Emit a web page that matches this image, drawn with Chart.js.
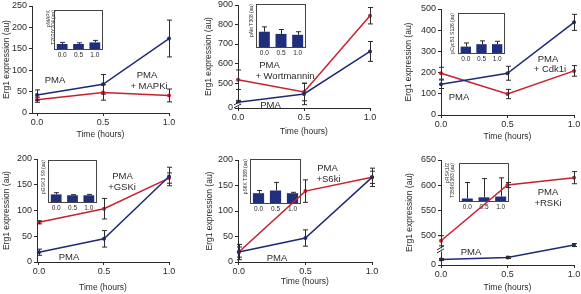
<!DOCTYPE html>
<html><head><meta charset="utf-8">
<script src="https://cdn.jsdelivr.net/npm/chart.js@4.4.0/dist/chart.umd.min.js"></script>
<style>
html,body{margin:0;padding:0;background:#fff;}
#wrap{position:relative;width:581px;height:294px;overflow:hidden;background:#fff;}
canvas{position:absolute;}
.lbl{position:absolute;font-family:"Liberation Sans",Arial,sans-serif;font-size:9.5px;color:#2a2a2a;white-space:nowrap;transform:translate(-50%,-50%);line-height:1;}
</style></head><body><div id="wrap"></div>
<script>
// ---------- data ----------
const times = [0, 0.5, 1.0];
const timeTicks = [0, 0.5, 1.0];
const insetCats = ['0.0', '0.5', '1.0'];

// Panel A (MAPK)
const pmaA = [42, 67, 174];
const pmaAErr = [12, 23, 43];
const mapki = [31, 48, 41];
const mapkiErr = [6, 18, 15];
const yTicksA = [0, 50, 100, 150, 200, 250];
const pMAPK = [15, 15, 19];
const pMAPKErr = [4, 3, 5];

// Panel B (Akt) - broken axis, "0" sits at 372 on the continued scale
const pmaB = [401, 444, 662];
const pmaBErr = [10, 55, 51];
const wort = [517, 454, 845];
const wortErr = [50, 45, 42];
const yTicksB = [372, 500, 600, 700, 800, 900];
const yTickLabelsB = ['0', '500', '600', '700', '800', '900'];
const pAkt = [37, 32, 30];
const pAktErr = [11, 10, 7];

// Panel C (Cdk1)
const pmaC = [145, 197, 437];
const pmaCErr = [20, 33, 38];
const cdk1i = [197, 99, 208];
const cdk1iErr = [28, 22, 25];
const yTicksC = [0, 100, 200, 300, 400, 500];
const pCycB1 = [18, 24, 24];
const pCycB1Err = [9, 8, 7];

// Panel D (GSK3)
const pmaD = [19, 45, 166];
const pmaDErr = [6, 16, 18];
const gski = [77, 103.5, 163];
const gskiErr = [3, 20, 10];
const yTicksD = [0, 50, 100, 150, 200];
const pGSK3 = [20, 18, 18];
const pGSK3Err = [4, 1.5, 2];

// Panel E (S6K)
const pmaE = [19.5, 47, 166];
const pmaEErr = [10, 16, 18];
const s6ki = [19.5, 139, 166];
const s6kiErr = [15, 22, 12];
const yTicksE = [0, 50, 100, 150, 200];
const pS6K = [24, 30, 24];
const pS6KErr = [6, 18, 2];

// Panel F (RSK) - broken axis, "0" sits at 442 on the continued scale
const pmaF = [453, 457, 481.5];
const pmaFErr = [2, 2, 3];
const rski = [490, 600.4, 615];
const rskiErr = [10, 5, 12];
const yTicksF = [442, 500, 550, 600, 650];
const yTickLabelsF = ['0', '500', '550', '600', '650'];
const pRSK = [9, 12, 14];
const pRSKErr = [41, 48, 48];

// ---------- styles / layout ----------
const BLUE = '#1f2a76', RED = '#c8202e', BAR = '#1f2f7c', INK = '#2a2a2a';
const FONT = '"Liberation Sans", Arial, Helvetica, sans-serif';
const YW = 44, XH = 34, PT = 8, PR = 10;

const panels = [
  { area: {l: 32, r: 169, t: 6, b: 113}, xMin: -0.038, yMin: 0, yMax: 250, yTicks: yTicksA, yLabels: null,
    yTitleX: 7, xTitleY: 135,
    series: [{d: pmaA, e: pmaAErr, c: BLUE}, {d: mapki, e: mapkiErr, c: RED}],
    labels: [['PMA', 55, 80], ['PMA', 147, 75], ['+ MAPKi', 149, 86]],
    inset: {box: {l: 54, r: 103, t: 10, b: 50}, v: pMAPK, e: pMAPKErr, title: ['pMAPK', 'T202/Y204 (au)'], tx: 48.5} },
  { area: {l: 238, r: 370, t: 5, b: 108}, xMin: 0, yMin: 372, yMax: 900, yTicks: yTicksB, yLabels: yTickLabelsB, brk: 385,
    yTitleX: 209, xTitleY: 132,
    series: [{d: pmaB, e: pmaBErr, c: BLUE}, {d: wort, e: wortErr, c: RED}],
    labels: [['PMA', 269.5, 65], ['+ Wortmannin', 285, 76], ['PMA', 270.5, 105]],
    inset: {box: {l: 256, r: 306, t: 4, b: 48}, v: pAkt, e: pAktErr, title: 'pAkt T308 (au)', tx: 252} },
  { area: {l: 441, r: 574, t: 9, b: 115}, xMin: 0, yMin: 0, yMax: 500, yTicks: yTicksC, yLabels: null,
    yTitleX: 409, xTitleY: 137,
    series: [{d: pmaC, e: pmaCErr, c: BLUE}, {d: cdk1i, e: cdk1iErr, c: RED}],
    labels: [['PMA', 459, 97], ['PMA', 548, 58.5], ['+ Cdk1i', 550, 69]],
    inset: {box: {l: 458, r: 505, t: 13, b: 54}, v: pCycB1, e: pCycB1Err, title: 'pCycB1 S126 (au)', tx: 453} },
  { area: {l: 37, r: 169, t: 159, b: 262}, xMin: -0.015, yMin: 0, yMax: 200, yTicks: yTicksD, yLabels: null,
    yTitleX: 6.5, xTitleY: 288,
    series: [{d: pmaD, e: pmaDErr, c: BLUE}, {d: gski, e: gskiErr, c: RED}],
    labels: [['PMA', 69, 257], ['PMA', 122.5, 176], ['+GSKi', 122, 187]],
    inset: {box: {l: 48, r: 97, t: 160, b: 203}, v: pGSK3, e: pGSK3Err, title: 'pGSK3 S9 (au)', tx: 44} },
  { area: {l: 238, r: 372, t: 160, b: 262}, xMin: -0.006, yMin: 0, yMax: 200, yTicks: yTicksE, yLabels: null,
    yTitleX: 210, xTitleY: 282,
    series: [{d: pmaE, e: pmaEErr, c: BLUE}, {d: s6ki, e: s6kiErr, c: RED}],
    labels: [['PMA', 277, 258], ['PMA', 327.5, 168], ['+S6ki', 328.5, 178.5]],
    inset: {box: {l: 250, r: 301, t: 159, b: 204}, v: pS6K, e: pS6KErr, title: 'pS6K T389 (au)', tx: 246} },
  { area: {l: 441, r: 574, t: 160, b: 265}, xMin: 0, yMin: 442, yMax: 650, yTicks: yTicksF, yLabels: yTickLabelsF, brk: 471,
    yTitleX: 410, xTitleY: 288,
    series: [{d: pmaF, e: pmaFErr, c: BLUE}, {d: rski, e: rskiErr, c: RED}],
    labels: [['PMA', 471, 252], ['PMA', 548, 192], ['+RSKi', 548, 202.5]],
    inset: {box: {l: 459, r: 509, t: 163, b: 202}, v: pRSK, e: pRSKErr, title: ['pRSK1/2', 'T359/S363 (au)'], tx: 448} }
];

// ---------- plugins ----------
const errPlugin = {
  id: 'errBars',
  afterDatasetsDraw(chart) {
    const ctx = chart.ctx, ys = chart.scales.y;
    chart.data.datasets.forEach((ds, i) => {
      if (!ds.errs) return;
      const meta = chart.getDatasetMeta(i);
      ctx.save();
      ctx.strokeStyle = INK; ctx.lineWidth = 1;
      meta.data.forEach((el, j) => {
        const v = ds.vals[j], e = ds.errs[j];
        const x = Math.round(el.x) + 0.5;
        const yT = ys.getPixelForValue(v + e);
        const yB = ds.upOnly ? el.y : ys.getPixelForValue(v - e);
        const cw = ds.capW || 2.5;
        ctx.beginPath();
        ctx.moveTo(x, yT); ctx.lineTo(x, yB);
        ctx.moveTo(x - cw, yT); ctx.lineTo(x + cw, yT);
        if (!ds.upOnly) { ctx.moveTo(x - cw, yB); ctx.lineTo(x + cw, yB); }
        ctx.stroke();
      });
      ctx.restore();
    });
  }
};
const boxPlugin = {
  id: 'boxBorder',
  afterDraw(chart) {
    const a = chart.chartArea, ctx = chart.ctx;
    ctx.save(); ctx.strokeStyle = '#444'; ctx.lineWidth = 1;
    ctx.strokeRect(Math.round(a.left) + 0.5, Math.round(a.top) + 0.5, Math.round(a.right - a.left) - 1, Math.round(a.bottom - a.top) - 1);
    ctx.restore();
  }
};
const brkPlugin = {
  id: 'brk',
  afterDraw(chart, args, opts) {
    if (opts.value == null) return;
    const ctx = chart.ctx, x = chart.chartArea.left, y = chart.scales.y.getPixelForValue(opts.value);
    ctx.save();
    ctx.fillStyle = '#fff'; ctx.fillRect(x - 2, y - 2, 4, 3);
    ctx.strokeStyle = INK; ctx.lineWidth = 1;
    ctx.beginPath();
    ctx.moveTo(x - 4, y - 0.5); ctx.lineTo(x + 3, y - 4.5);
    ctx.moveTo(x - 4, y + 2.5); ctx.lineTo(x + 3, y - 1.5);
    ctx.stroke(); ctx.restore();
  }
};

const wrap = document.getElementById('wrap');
function makeCanvas(left, top, w, h) {
  const cv = document.createElement('canvas');
  cv.width = w; cv.height = h;
  cv.style.left = left + 'px'; cv.style.top = top + 'px';
  cv.style.width = w + 'px'; cv.style.height = h + 'px';
  wrap.appendChild(cv);
  return cv;
}

// ---------- insets (drawn underneath) ----------
panels.forEach(p => {
  const ins = p.inset, b = ins.box;
  const IYW = 16, IPT = 2, IPR = 2, IXH = 9;
  const left = b.l - IYW, top = b.t - IPT;
  const w = (b.r - b.l) + IYW + IPR, h = (b.b - b.t) + IPT + IXH;
  const cv = makeCanvas(left, top, w, h);
  const tFont = 5, tLH = 1;
  new Chart(cv, {
    type: 'bar',
    data: { labels: insetCats, datasets: [{
      data: ins.v, vals: ins.v, errs: ins.e, upOnly: true, capW: 2.5,
      backgroundColor: BAR, borderWidth: 0, categoryPercentage: 1, barPercentage: 0.66 }] },
    options: {
      responsive: false, animation: false, devicePixelRatio: 1,
      layout: { padding: {left: 0, top: IPT, right: IPR, bottom: 0} },
      plugins: { legend: {display: false}, tooltip: {enabled: false} },
      scales: {
        x: { afterFit: s => { s.height = IXH; },
             ticks: { font: {family: FONT, size: 6.5}, color: INK, padding: 1, maxRotation: 0 },
             grid: { display: false, drawTicks: false }, border: { display: false } },
        y: { min: 0, max: 100, afterFit: s => { s.width = IYW; },
             ticks: { display: false }, grid: { display: false, drawTicks: false }, border: { display: false },
             title: { display: true, text: ins.title, align: 'end', color: INK,
                      font: {family: FONT, size: tFont, lineHeight: tLH},
                      padding: {top: ins.tx - left - tFont * tLH / 2, bottom: 0} } }
      }
    },
    plugins: [errPlugin, boxPlugin]
  });
});

// ---------- main charts ----------
Chart.register(brkPlugin);
panels.forEach(p => {
  const a = p.area;
  const left = a.l - YW, top = a.t - PT;
  const w = (a.r - a.l) + YW + PR, h = (a.b - a.t) + PT + XH;
  const cv = makeCanvas(left, top, w, h);
  const tSize = 8.5, tLH = 10.2;
  new Chart(cv, {
    type: 'line',
    data: { datasets: p.series.map(s => ({
      data: times.map((t, i) => ({x: t, y: s.d[i]})),
      vals: s.d, errs: s.e,
      borderColor: s.c, backgroundColor: s.c, borderWidth: 1.5,
      pointRadius: 2, pointHoverRadius: 2, pointBorderWidth: 0, pointBackgroundColor: s.c,
      tension: 0, clip: false })) },
    options: {
      responsive: false, animation: false, devicePixelRatio: 1,
      layout: { padding: {left: 0, top: PT, right: PR, bottom: 0} },
      plugins: { legend: {display: false}, tooltip: {enabled: false}, brk: {value: p.brk} },
      scales: {
        x: { type: 'linear', min: p.xMin, max: 1,
             afterFit: s => { s.height = XH; },
             afterBuildTicks: s => { s.ticks = timeTicks.map(v => ({value: v})); },
             ticks: { callback: v => Number(v).toFixed(1), font: {family: FONT, size: 9}, color: INK, padding: 1, maxRotation: 0, autoSkip: false },
             grid: { display: true, drawOnChartArea: false, drawTicks: true, tickLength: 3, color: INK },
             border: { display: true, color: INK, width: 1 },
             title: { display: true, text: 'Time (hours)', color: INK, font: {family: FONT, size: tSize, lineHeight: 1.2},
                      padding: {top: 0, bottom: (top + h) - p.xTitleY - tLH / 2} } },
        y: { min: p.yMin, max: p.yMax,
             afterFit: s => { s.width = YW; },
             afterBuildTicks: s => { s.ticks = p.yTicks.map(v => ({value: v})); },
             ticks: { callback: (v, i) => p.yLabels ? p.yLabels[i] : String(v), font: {family: FONT, size: 9}, color: INK, padding: 2, autoSkip: false },
             grid: { display: true, drawOnChartArea: false, drawTicks: true, tickLength: 3, color: INK },
             border: { display: true, color: INK, width: 1 },
             title: { display: true, text: 'Erg1 expression (au)', color: INK, font: {family: FONT, size: tSize, lineHeight: 1.2},
                      padding: {top: p.yTitleX - left - tLH / 2, bottom: 0} } }
      }
    },
    plugins: [errPlugin]
  });
  p.labels.forEach(([t, x, y]) => {
    const d = document.createElement('div');
    d.className = 'lbl'; d.textContent = t;
    d.style.left = x + 'px'; d.style.top = y + 'px';
    wrap.appendChild(d);
  });
});
</script></body></html>
